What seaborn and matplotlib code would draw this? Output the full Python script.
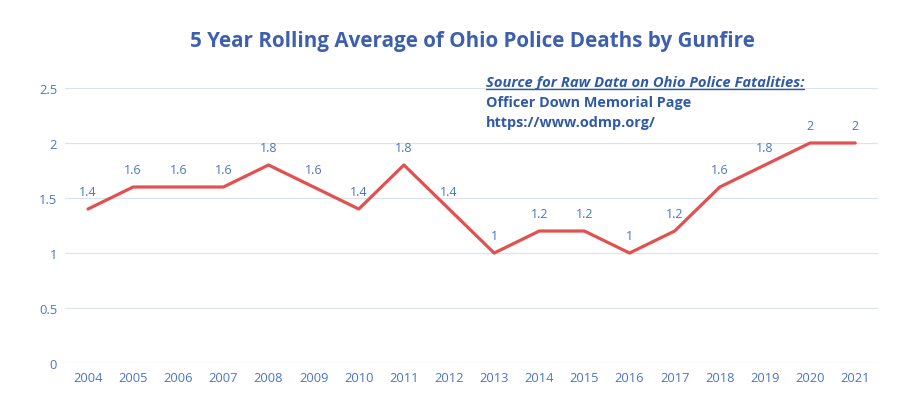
import matplotlib
matplotlib.use("Agg")
import matplotlib.pyplot as plt
import seaborn as sns
import pandas as pd

years = ["2004", "2005", "2006", "2007", "2008", "2009", "2010", "2011", "2012",
         "2013", "2014", "2015", "2016", "2017", "2018", "2019", "2020", "2021"]
values = [1.4, 1.6, 1.6, 1.6, 1.8, 1.6, 1.4, 1.8, 1.4,
          1.0, 1.2, 1.2, 1.0, 1.2, 1.6, 1.8, 2.0, 2.0]
labels = ["1.4", "1.6", "1.6", "1.6", "1.8", "1.6", "1.4", "1.8", "1.4",
          "1", "1.2", "1.2", "1", "1.2", "1.6", "1.8", "2", "2"]
yticks = [0, 0.5, 1, 1.5, 2, 2.5]
ytick_labels = ["0", "0.5", "1", "1.5", "2", "2.5"]

sns.set_theme(style="white")
plt.rcParams["font.family"] = ["Open Sans", "DejaVu Sans"]

df = pd.DataFrame({"year": years, "value": values})
df["pos"] = range(len(years))

fig = plt.figure(figsize=(9.22, 4.10), dpi=100)
ax = fig.add_axes([0.071, 0.112, 0.881, 0.671])

sns.lineplot(data=df, x="pos", y="value", ax=ax, color="#E2504F", linewidth=2.3)

label_color = "#4A76C6"
for x, y, t in zip(df["pos"], values, labels):
    ax.annotate(t, (x, y), xytext=(0, 8), textcoords="offset points",
                ha="center", va="bottom", fontsize=9, color=label_color)

ax.set_xlim(-0.5, len(years) - 0.5)
ax.set_ylim(0, 2.5)
ax.set_xticks(range(len(years)))
ax.set_xticklabels(years, fontsize=9.3, color=label_color)
ax.set_yticks(yticks)
ax.set_yticklabels(ytick_labels, fontsize=9.3, color=label_color)
ax.tick_params(axis="both", length=0, pad=6)
ax.set_xlabel("")
ax.set_ylabel("")
ax.grid(axis="y", color="#DCE3EA", linewidth=0.9)
ax.set_axisbelow(True)
for s in ax.spines.values():
    s.set_visible(False)

fig.text(0.512, 0.9, "5 Year Rolling Average of Ohio Police Deaths by Gunfire",
         ha="center", va="center", fontsize=14.9, fontweight="bold", color="#3D5FAF")

note_color = "#2F5AA8"
src = fig.text(0.527, 0.797, "Source for Raw Data on Ohio Police Fatalities:", ha="left", va="center",
               fontsize=10.6, fontweight="bold", fontstyle="italic", color=note_color)
fig.text(0.527, 0.749, "Officer Down Memorial Page", ha="left", va="center",
         fontsize=10.4, fontweight="bold", color=note_color)
fig.text(0.527, 0.701, "https://www.odmp.org/", ha="left", va="center",
         fontsize=10.4, fontweight="bold", color=note_color)

# underline for the source line, matched to the rendered text width
fig.canvas.draw()
bb = src.get_window_extent().transformed(fig.transFigure.inverted())
fig.add_artist(plt.Line2D([bb.x0, bb.x1], [bb.y0 + 0.001, bb.y0 + 0.001],
                          color=note_color, linewidth=1.0))

fig.savefig("out.png", dpi=100)
